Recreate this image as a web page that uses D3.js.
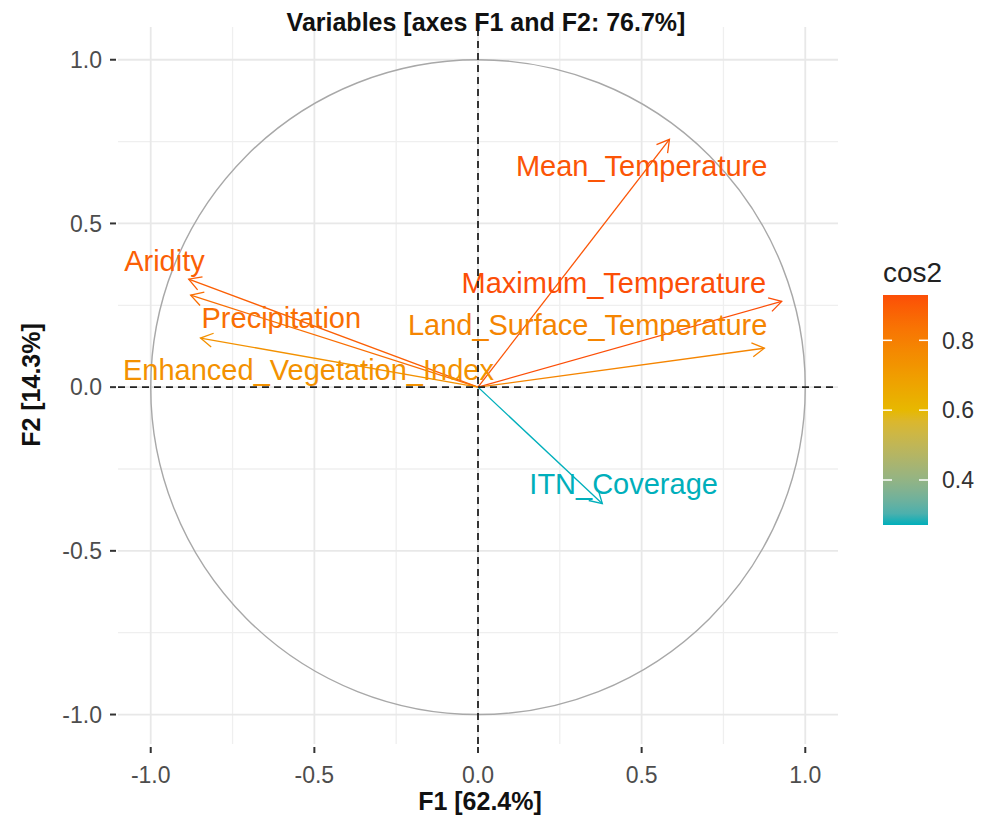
<!DOCTYPE html>
<html lang="en">
<head>
    <meta charset="UTF-8">
    <title>Variables PCA</title>
    <script src="https://d3js.org/d3.v7.min.js"></script>
    <style>
        body { margin: 0; background: white; }
        text { font-family: 'Liberation Sans', Arial, sans-serif; }
        .tick-label { font-size: 23px; fill: #4d4d4d; }
        .bold { font-weight: bold; font-size: 25px; fill: #111; }
    </style>
</head>
<body>
<script>
    const width = 987;
    const height = 818;

    // variables and their coordinates on F1 / F2
    const variables = ['Aridity', 'Precipitation', 'Enhanced_Vegetation_Index', 'Maximum_Temperature',
                       'Land_Surface_Temperature', 'Mean_Temperature', 'ITN_Coverage'];
    const dim1 = [-0.884, -0.878, -0.848, 0.928, 0.875, 0.585, 0.380];
    const dim2 = [0.330, 0.281, 0.150, 0.262, 0.119, 0.757, -0.356];
    // where the labels sit (in data units)
    const labelDim1 = [-0.958, -0.601, -0.518, 0.415, 0.335, 0.500, 0.445];
    const labelDim2 = [0.388, 0.211, 0.055, 0.320, 0.190, 0.678, -0.296];

    const axisTicks = [-1.0, -0.5, 0.0, 0.5, 1.0];
    const minorTicks = [-0.75, -0.25, 0.25, 0.75];
    const legendTicks = [0.4, 0.6, 0.8];
    const gradientCols = ['#00AFBB', '#E7B800', '#FC4E07'];

    const cos2 = dim1.map((d, i) => d * d + dim2[i] * dim2[i]);
    const cmin = d3.min(cos2), cmax = d3.max(cos2);
    const color = d3.scaleLinear()
        .domain([cmin, (cmin + cmax) / 2, cmax])
        .range(gradientCols)
        .interpolate(d3.interpolateLab);

    const x = d3.scaleLinear().domain([-1.1, 1.1]).range([118, 838]);
    const y = d3.scaleLinear().domain([-1.09, 1.1]).range([744, 27]);
    const fmt = d => d.toFixed(1);

    const svg = d3.select("body").append("svg").attr("width", width).attr("height", height);

    // grid
    const grid = svg.append("g");
    grid.selectAll(".vminor").data(minorTicks).enter().append("line")
        .attr("x1", d => x(d)).attr("x2", d => x(d)).attr("y1", y.range()[0]).attr("y2", y.range()[1])
        .style("stroke", "#efefef").style("stroke-width", 1.3);
    grid.selectAll(".hminor").data(minorTicks).enter().append("line")
        .attr("y1", d => y(d)).attr("y2", d => y(d)).attr("x1", x.range()[0]).attr("x2", x.range()[1])
        .style("stroke", "#efefef").style("stroke-width", 1.3);
    grid.selectAll(".vmajor").data(axisTicks).enter().append("line")
        .attr("x1", d => x(d)).attr("x2", d => x(d)).attr("y1", y.range()[0]).attr("y2", y.range()[1])
        .style("stroke", "#e8e8e8").style("stroke-width", 1.8);
    grid.selectAll(".hmajor").data(axisTicks).enter().append("line")
        .attr("y1", d => y(d)).attr("y2", d => y(d)).attr("x1", x.range()[0]).attr("x2", x.range()[1])
        .style("stroke", "#e8e8e8").style("stroke-width", 1.8);

    // correlation circle
    svg.append("ellipse")
        .attr("cx", x(0)).attr("cy", y(0))
        .attr("rx", x(1) - x(0)).attr("ry", y(0) - y(1))
        .style("fill", "none").style("stroke", "#a8a8a8").style("stroke-width", 1.4);

    // arrows
    const arrows = svg.append("g");
    const headLen = 14, headAng = Math.PI / 6;
    variables.forEach((v, i) => {
        const x0 = x(0), y0 = y(0), x1 = x(dim1[i]), y1 = y(dim2[i]);
        const a = Math.atan2(y1 - y0, x1 - x0);
        const c = color(cos2[i]);
        arrows.append("line")
            .attr("x1", x0).attr("y1", y0).attr("x2", x1).attr("y2", y1)
            .style("stroke", c).style("stroke-width", 1.3);
        const p = d3.path();
        p.moveTo(x1 - headLen * Math.cos(a - headAng), y1 - headLen * Math.sin(a - headAng));
        p.lineTo(x1, y1);
        p.lineTo(x1 - headLen * Math.cos(a + headAng), y1 - headLen * Math.sin(a + headAng));
        arrows.append("path").attr("d", p.toString())
            .style("fill", "none").style("stroke", c).style("stroke-width", 1.3);
    });

    // labels
    svg.selectAll(".lab").data(variables).enter().append("text")
        .attr("x", (d, i) => x(labelDim1[i]))
        .attr("y", (d, i) => y(labelDim2[i]))
        .attr("dy", "0.36em")
        .attr("text-anchor", "middle")
        .style("font-size", "29px")
        .style("fill", (d, i) => color(cos2[i]))
        .text(d => d);

    // dashed axes through origin
    svg.append("line")
        .attr("x1", x.range()[0]).attr("x2", x.range()[1]).attr("y1", y(0)).attr("y2", y(0))
        .style("stroke", "#222").style("stroke-width", 1.8).style("stroke-dasharray", "7,5");
    svg.append("line")
        .attr("x1", x(0)).attr("x2", x(0)).attr("y1", y.range()[0]).attr("y2", y.range()[1])
        .style("stroke", "#222").style("stroke-width", 1.8).style("stroke-dasharray", "7,5");

    // axis ticks and labels
    svg.selectAll(".xt").data(axisTicks).enter().append("line")
        .attr("x1", d => x(d)).attr("x2", d => x(d)).attr("y1", 747).attr("y2", 753)
        .style("stroke", "#333").style("stroke-width", 2);
    svg.selectAll(".xl").data(axisTicks).enter().append("text")
        .attr("class", "tick-label")
        .attr("x", d => x(d)).attr("y", 783).attr("text-anchor", "middle")
        .text(fmt);
    svg.selectAll(".yt").data(axisTicks).enter().append("line")
        .attr("x1", 110).attr("x2", 116).attr("y1", d => y(d)).attr("y2", d => y(d))
        .style("stroke", "#333").style("stroke-width", 2);
    svg.selectAll(".yl").data(axisTicks).enter().append("text")
        .attr("class", "tick-label")
        .attr("x", 102).attr("y", d => y(d)).attr("dy", "0.36em").attr("text-anchor", "end")
        .text(fmt);

    // titles
    svg.append("text").attr("class", "bold")
        .attr("x", 486).attr("y", 31).attr("text-anchor", "middle")
        .text("Variables [axes F1 and F2: 76.7%]");
    svg.append("text").attr("class", "bold")
        .attr("x", 480).attr("y", 810).attr("text-anchor", "middle")
        .text("F1 [62.4%]");
    svg.append("text").attr("class", "bold")
        .attr("transform", "translate(40,385) rotate(-90)").attr("text-anchor", "middle")
        .text("F2 [14.3%]");

    // colour bar legend
    const lx = 883, lw = 45;
    const ly = d3.scaleLinear().domain([cmin, cmax]).range([525, 295]);
    const defs = svg.append("defs");
    const grad = defs.append("linearGradient").attr("id", "cbar")
        .attr("x1", 0).attr("y1", 1).attr("x2", 0).attr("y2", 0);
    d3.range(0, 1.0001, 0.05).forEach(t => {
        grad.append("stop").attr("offset", t)
            .attr("stop-color", color(cmin + t * (cmax - cmin)));
    });
    svg.append("rect")
        .attr("x", lx).attr("y", ly(cmax)).attr("width", lw).attr("height", ly(cmin) - ly(cmax))
        .style("fill", "url(#cbar)");
    legendTicks.forEach(t => {
        svg.append("line").attr("x1", lx).attr("x2", lx + 9).attr("y1", ly(t)).attr("y2", ly(t))
            .style("stroke", "white").style("stroke-width", 1.5);
        svg.append("line").attr("x1", lx + lw - 9).attr("x2", lx + lw).attr("y1", ly(t)).attr("y2", ly(t))
            .style("stroke", "white").style("stroke-width", 1.5);
    });
    svg.selectAll(".lt").data(legendTicks).enter().append("text")
        .attr("x", 942).attr("y", d => ly(d)).attr("dy", "0.36em")
        .style("font-size", "23px").style("fill", "#333")
        .text(fmt);
    svg.append("text")
        .attr("x", lx).attr("y", 282)
        .style("font-size", "28px").style("fill", "#222")
        .text("cos2");
</script>
</body>
</html>
